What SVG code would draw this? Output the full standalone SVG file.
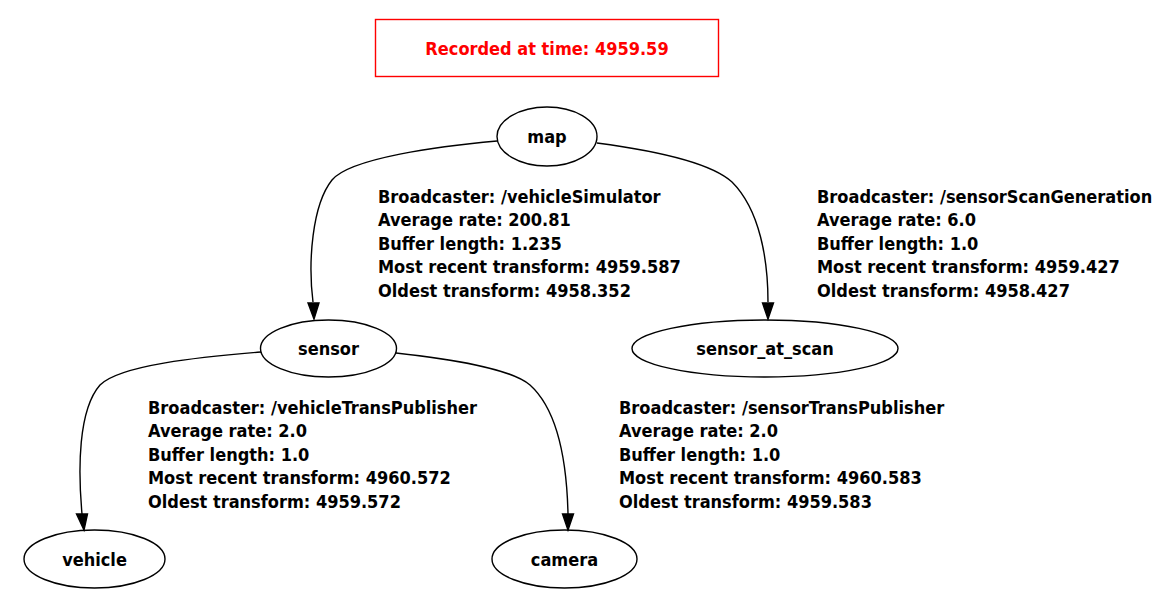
<svg xmlns="http://www.w3.org/2000/svg" width="1170" height="601" viewBox="0 0 1170 601">
<style>
text{font-family:"DejaVu Sans Condensed","DejaVu Sans",sans-serif;font-weight:bold;font-size:18px;fill:#000}
.c{text-anchor:middle}
.red{fill:#ff0000}
ellipse{fill:none;stroke:#000;stroke-width:1.4}
.e{fill:none;stroke:#000;stroke-width:1.4}
.ah{fill:#000;stroke:#000;stroke-width:1.4}
</style>
<rect width="1170" height="601" fill="#fff"/>
<g id="title">
<rect x="375.5" y="19.5" width="343" height="57" fill="none" stroke="#ff0000" stroke-width="1.4"/>
<text class="c red" x="547" y="55">Recorded at time: 4959.59</text>
</g>
<g id="connectors">
<g id="edge-map-sensor">
<path class="e" d="M497,141 C440,146 350,158 332,180 C312,205 308,262 313,302"/>
<polygon class="ah" points="308,303 319,303 314,319"/>
<text x="378" y="202.5">Broadcaster: /vehicleSimulator</text>
<text x="378" y="226">Average rate: 200.81</text>
<text x="378" y="249.5">Buffer length: 1.235</text>
<text x="378" y="273">Most recent transform: 4959.587</text>
<text x="378" y="296.5">Oldest transform: 4958.352</text>
</g>
<g id="edge-map-sensor_at_scan">
<path class="e" d="M597,143 C650,150 710,162 732,182 C760,210 768,260 768,302"/>
<polygon class="ah" points="762.5,303 773.5,303 768,319"/>
<text x="817" y="202.5">Broadcaster: /sensorScanGeneration</text>
<text x="817" y="226">Average rate: 6.0</text>
<text x="817" y="249.5">Buffer length: 1.0</text>
<text x="817" y="273">Most recent transform: 4959.427</text>
<text x="817" y="296.5">Oldest transform: 4958.427</text>
</g>
<g id="edge-sensor-vehicle">
<path class="e" d="M261,352 C200,357 120,365 100,385 C78,410 78,470 82,514"/>
<polygon class="ah" points="76.5,514 87.5,514 84,530"/>
<text x="148" y="413.5">Broadcaster: /vehicleTransPublisher</text>
<text x="148" y="437">Average rate: 2.0</text>
<text x="148" y="460.5">Buffer length: 1.0</text>
<text x="148" y="484">Most recent transform: 4960.572</text>
<text x="148" y="507.5">Oldest transform: 4959.572</text>
</g>
<g id="edge-sensor-camera">
<path class="e" d="M396,353 C450,359 510,368 530,385 C560,412 567,470 568,514"/>
<polygon class="ah" points="562.5,514 573.5,514 568,530"/>
<text x="619" y="413.5">Broadcaster: /sensorTransPublisher</text>
<text x="619" y="437">Average rate: 2.0</text>
<text x="619" y="460.5">Buffer length: 1.0</text>
<text x="619" y="484">Most recent transform: 4960.583</text>
<text x="619" y="507.5">Oldest transform: 4959.583</text>
</g>
</g>
<g id="node-map">
<ellipse cx="547" cy="136.5" rx="50" ry="29.5"/>
<text class="c" x="547" y="143">map</text>
</g>
<g id="node-sensor">
<ellipse cx="328.5" cy="348.5" rx="68" ry="28.5"/>
<text class="c" x="328.5" y="355">sensor</text>
</g>
<g id="node-sensor_at_scan">
<ellipse cx="765" cy="348.5" rx="133" ry="28.5"/>
<text class="c" x="765" y="355">sensor_at_scan</text>
</g>
<g id="node-vehicle">
<ellipse cx="94.5" cy="559" rx="70.5" ry="29"/>
<text class="c" x="94.5" y="565.5">vehicle</text>
</g>
<g id="node-camera">
<ellipse cx="564.5" cy="559" rx="72.5" ry="29"/>
<text class="c" x="564.5" y="565.5">camera</text>
</g>
</svg>
